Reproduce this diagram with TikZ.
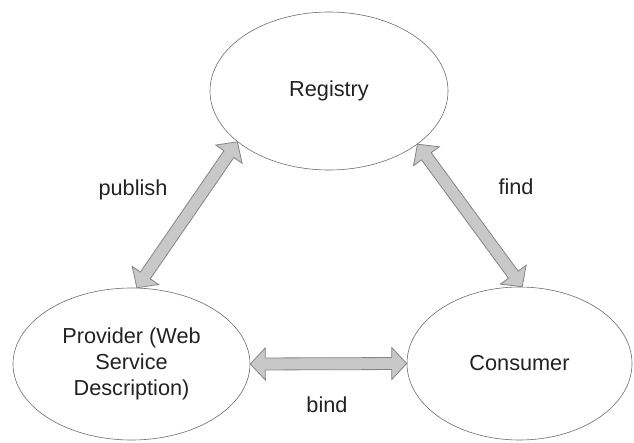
\documentclass[tikz,border=0pt]{standalone}
\usepackage{fontspec}
\setmainfont{Liberation Sans}
\usetikzlibrary{calc,shapes.geometric}
\definecolor{edgegray}{HTML}{6E6E6E}
\definecolor{arrfill}{HTML}{C8C8C8}
\definecolor{arrline}{HTML}{858585}
\definecolor{txt}{HTML}{222222}
\tikzset{
  actor/.style={ellipse, draw=edgegray, line width=0.6pt, inner sep=0pt, text=txt,
    font=\fontsize{21.7}{26}\selectfont, align=center},
  lbl/.style={text=txt, font=\fontsize{21.7}{26}\selectfont, inner sep=0pt},
  blockarr/.style={fill=arrfill, draw=arrline, line width=0.8pt, line join=miter}
}
\newcommand{\dblarrow}[2]{%
  \draw[blockarr] (#1)
    -- ($(#1)!15pt!(#2)!16pt!90:(#2)$)
    -- ($(#1)!15pt!(#2)!6pt!90:(#2)$)
    -- ($(#2)!15pt!(#1)!6pt!-90:(#1)$)
    -- ($(#2)!15pt!(#1)!16pt!-90:(#1)$)
    -- (#2)
    -- ($(#2)!15pt!(#1)!16pt!90:(#1)$)
    -- ($(#2)!15pt!(#1)!6pt!90:(#1)$)
    -- ($(#1)!15pt!(#2)!6pt!-90:(#2)$)
    -- ($(#1)!15pt!(#2)!16pt!-90:(#2)$)
    -- cycle;}
\begin{document}
\begin{tikzpicture}[x=1pt,y=-1pt]
\useasboundingbox[fill=white] (0,0) rectangle (634,442);
\node[actor, minimum width=238pt, minimum height=158pt] (reg) at (329,91) {Registry};
\node[actor, minimum width=237pt, minimum height=152pt] (prov) at (131.5,364) {Provider (Web\\Service\\Description)};
\node[actor, minimum width=225pt, minimum height=153pt] (cons) at (519.5,363.5) {Consumer};
\coordinate (pubTop) at (reg.209.8);
\coordinate (pubBot) at (prov.86);
\coordinate (findTop) at (reg.329);
\coordinate (findBot) at (cons.88);
\coordinate (bindL) at (prov.east);
\coordinate (bindR) at (cons.west);
\dblarrow{pubBot}{pubTop}
\dblarrow{findTop}{findBot}
\dblarrow{bindL}{bindR}
\node[lbl] (publish) at (133,190) {publish};
\node[lbl] (find) at (516,187) {find};
\node[lbl] (bind) at (327,405) {bind};
\end{tikzpicture}
\end{document}
